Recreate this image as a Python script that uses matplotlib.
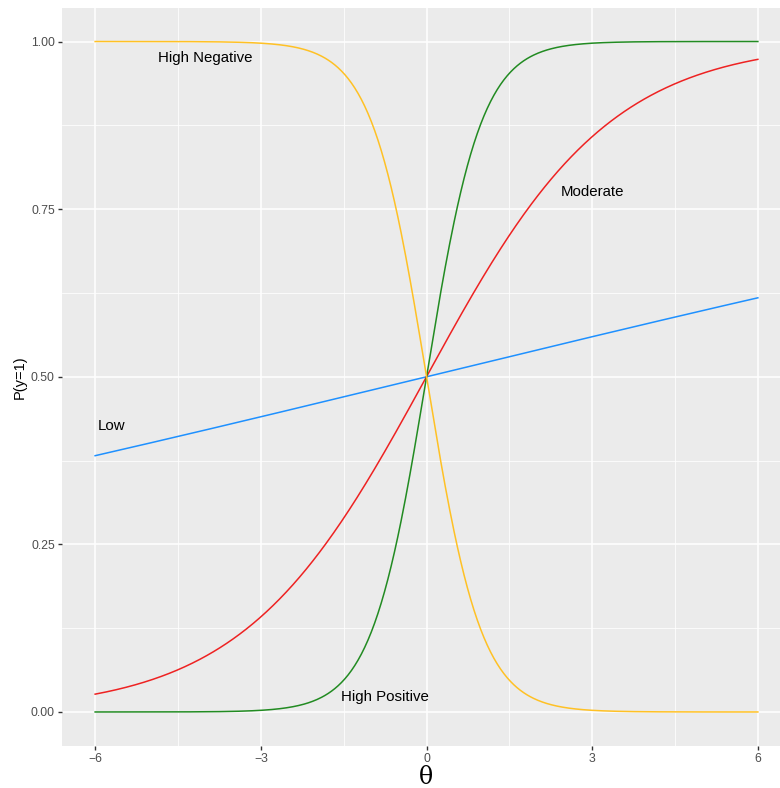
import numpy as np
import matplotlib
matplotlib.use("Agg")
import matplotlib.pyplot as plt

plt.rcParams["font.family"] = ["Liberation Sans", "DejaVu Sans"]

# item discrimination (slope) per curve, difficulty 0
labels = ["Low", "Moderate", "High Positive", "High Negative"]
slopes = [0.08, 0.6, 2.0, -2.0]
colors = ["#1E90FF", "#EE2222", "#228B22", "#FFC125"]
label_x = [-5.7, 3.0, -0.75, -4.0]
label_y = [0.427, 0.776, 0.022, 0.976]
xticks = [-6, -3, 0, 3, 6]
xticklabels = ["\u22126", "\u22123", "0", "3", "6"]
yticks = [0.0, 0.25, 0.5, 0.75, 1.0]
yticklabels = ["0.00", "0.25", "0.50", "0.75", "1.00"]

theta = np.linspace(-6, 6, 601)

W, H = 780, 788
fig = plt.figure(figsize=(W / 100, H / 100), dpi=100)
left, right, top, bottom = 62, 791, 8, 745.5
ax = fig.add_axes([left / W, 1 - bottom / H, (right - left) / W, (bottom - top) / H])
ax.set_facecolor("#EBEBEB")
for s in ax.spines.values():
    s.set_visible(False)

ax.set_xlim(-6.6, 6.6)
ax.set_ylim(-0.05, 1.05)
ax.set_xticks(xticks)
ax.set_xticklabels(xticklabels)
ax.set_yticks(yticks)
ax.set_yticklabels(yticklabels)
ax.set_xticks([-4.5, -1.5, 1.5, 4.5], minor=True)
ax.set_yticks([0.125, 0.375, 0.625, 0.875], minor=True)
ax.grid(which="major", color="white", linewidth=1.1)
ax.grid(which="minor", color="white", linewidth=0.55)
ax.set_axisbelow(True)
ax.tick_params(which="major", length=3.0, width=1.0, color="#333333", labelcolor="#4D4D4D",
               labelsize=8.8, pad=2.2)
ax.tick_params(which="minor", length=0)

for lab, a, c in zip(labels, slopes, colors):
    p = 1 / (1 + np.exp(-a * theta))
    ax.plot(theta, p, color=c, linewidth=1.1)

for lab, x, y in zip(labels, label_x, label_y):
    ax.text(x, y, lab, ha="center", va="center", fontsize=10.8, color="black")

fig.text(426.5 / W, 1 - 778 / H, "\u03b8", fontsize=17, family="DejaVu Serif",
         ha="center", va="center")
ax.set_ylabel("P(y=1)", fontsize=10.5, labelpad=3)

fig.savefig("out.png", dpi=100)
